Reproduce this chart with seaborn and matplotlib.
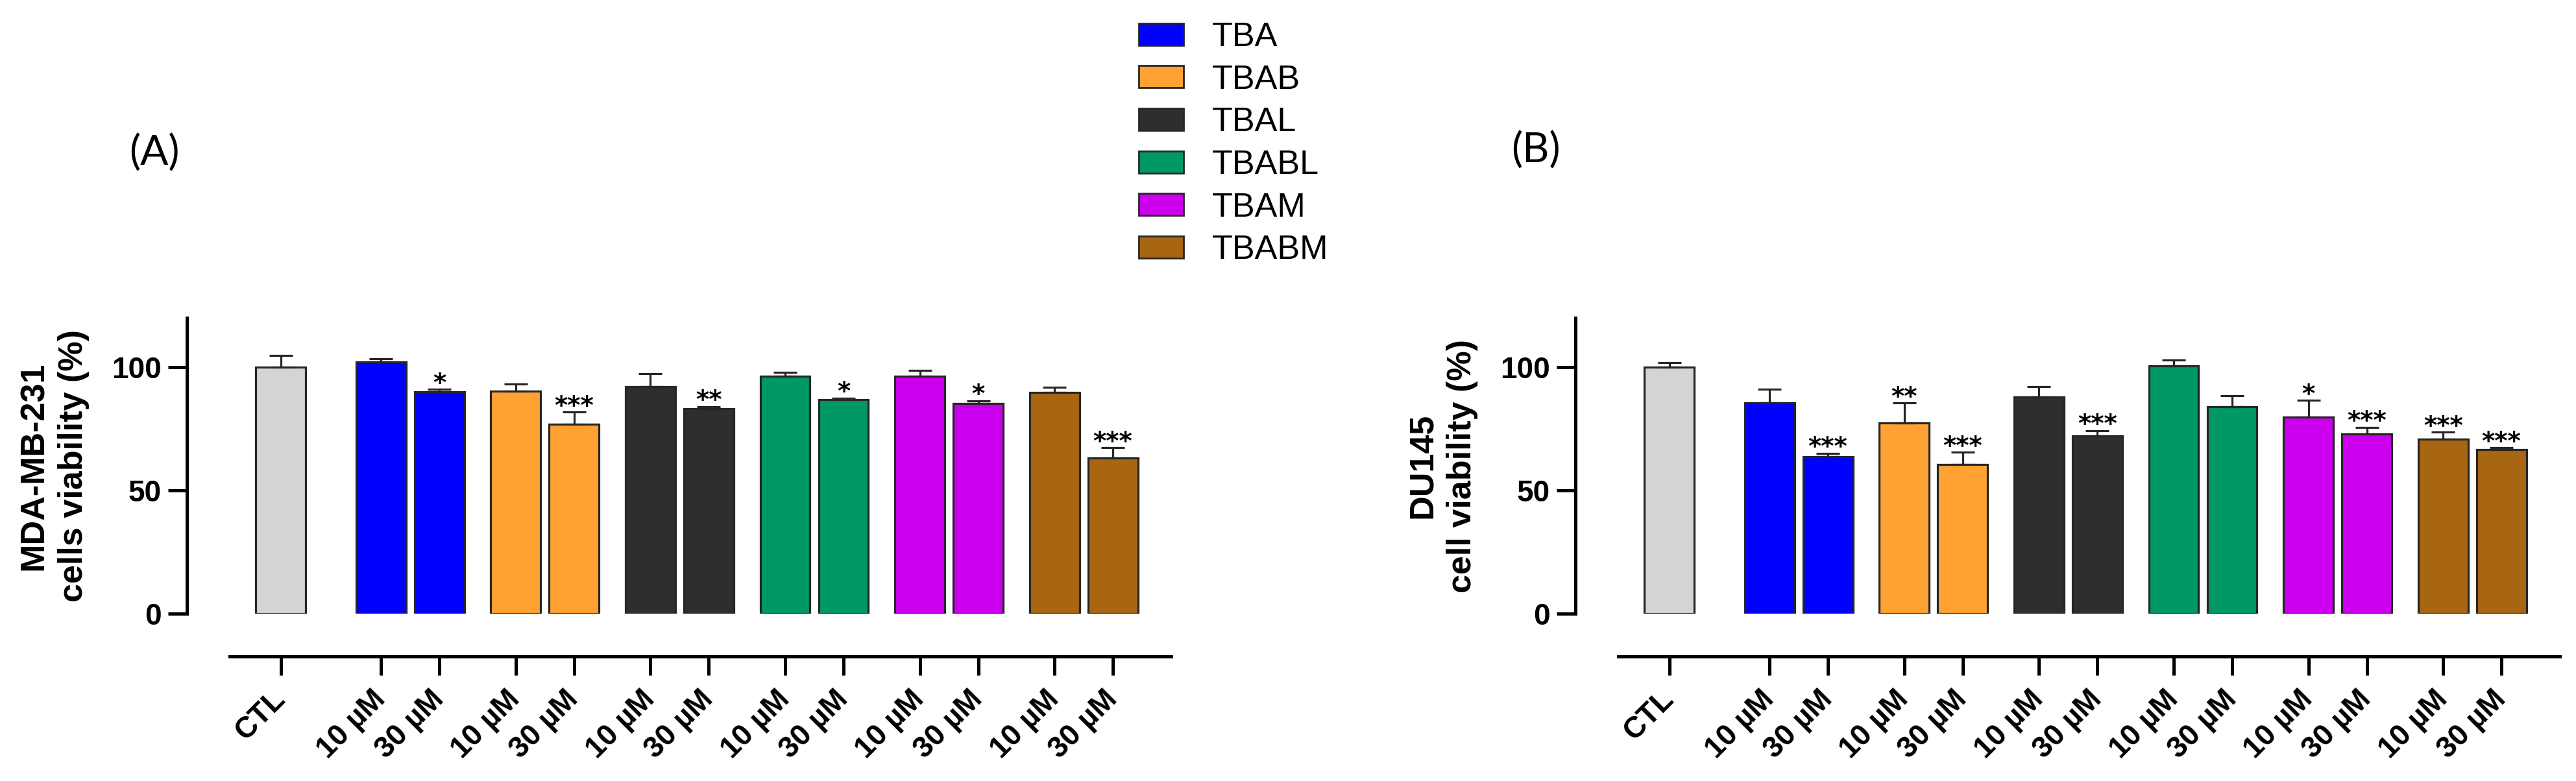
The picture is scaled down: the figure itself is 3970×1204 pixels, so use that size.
import numpy as np
import pandas as pd
import matplotlib
matplotlib.use("Agg")
import matplotlib.pyplot as plt
import seaborn as sns
from matplotlib.patches import Patch

# ---------------- data ----------------
ctl_label = "CTL"
groups = ["TBA", "TBAB", "TBAL", "TBABL", "TBAM", "TBABM"]
doses = ["10 µM", "30 µM"]

# order: CTL, TBA 10, TBA 30, TBAB 10, TBAB 30, ... TBABM 30
mda_mean = [100.0, 102.0, 90.0, 90.2, 76.8, 92.0, 83.2, 96.3, 86.8, 96.3, 85.3, 89.8, 63.2]
mda_sem = [4.8, 1.5, 1.0, 3.0, 5.0, 5.4, 0.8, 1.7, 0.7, 2.4, 1.1, 2.0, 4.2]
mda_sig = ["", "", "*", "", "***", "", "**", "", "*", "", "*", "", "***"]

du_mean = [100.0, 85.6, 63.8, 77.5, 60.4, 87.8, 72.1, 100.5, 84.0, 79.7, 72.9, 70.9, 66.5]
du_sem = [1.8, 5.5, 1.3, 8.0, 5.0, 4.3, 2.2, 2.4, 4.5, 6.8, 2.7, 2.7, 0.8]
du_sig = ["", "", "***", "**", "***", "", "***", "", "", "*", "***", "***", "***"]

ylabel_a = "MDA-MB-231\ncells viability (%)"
ylabel_b = "DU145\ncell viability (%)"
yticks = [0, 50, 100]

# ---------------- style ----------------
ctl_color = "#d4d4d4"
group_colors = ["#0000ff", "#ffa233", "#2e2e2e", "#009966", "#cc00ee", "#a86612"]
edge = "#262626"

sns.set_style("ticks")
plt.rcParams["font.family"] = ["Liberation Sans", "DejaVu Sans"]
plt.rcParams["text.color"] = "black"
plt.rcParams["axes.labelcolor"] = "black"
plt.rcParams["xtick.color"] = "black"
plt.rcParams["ytick.color"] = "black"

DPI = 100
W, H = 3970, 1204
fig = plt.figure(figsize=(W / DPI, H / DPI), dpi=DPI)

CTL_GAP = 1.72
GROUP_GAP = 2.31
BAR_W = 0.855
positions = [0.0] + [CTL_GAP + i * GROUP_GAP + j for i in range(len(groups)) for j in range(len(doses))]
hue_labels = [ctl_label] + [g for g in groups for _ in doses]
xticklabels = [ctl_label] + [d for _ in groups for d in doses]
palette = dict(zip([ctl_label] + groups, [ctl_color] + group_colors))

LW = 3.6


def panel(ax, means, sems, sigs, ylabel):
    df = pd.DataFrame({"pos": positions, "val": means, "grp": hue_labels})
    sns.barplot(data=df, x="pos", y="val", hue="grp", hue_order=[ctl_label] + groups,
                palette=palette, native_scale=True, dodge=False, width=BAR_W,
                errorbar=None, edgecolor=edge, linewidth=2.3, legend=False, ax=ax,
                saturation=1, zorder=2)
    n = len(means)
    ax.errorbar(positions, means, yerr=[np.zeros(n), sems], fmt="none", ecolor=edge,
                elinewidth=2.3, capsize=13, capthick=2.3, zorder=3)
    for p, m, s, sig in zip(positions, means, sems, sigs):
        if sig:
            ax.text(p, m + s + 2.2, sig, ha="center", va="center", fontsize=28,
                    fontweight="bold", family="DejaVu Sans", color="black", zorder=4)
    ax.set_xlim(-1.61, 15.27)
    ax.set_ylim(0, 120)
    for s in ["top", "right"]:
        ax.spines[s].set_visible(False)
    ax.spines["left"].set_linewidth(LW)
    ax.spines["bottom"].set_linewidth(LW)
    ax.spines["left"].set_color("black")
    ax.spines["bottom"].set_color("black")
    ax.spines["bottom"].set_position(("outward", 47.5))
    ax.spines["bottom"].set_bounds(-0.88, 15.27)
    ax.spines["left"].set_bounds(0, 120)
    ax.set_xlabel("")
    ax.set_facecolor("white")
    ax.grid(False)
    ax.tick_params(axis="x", length=21, width=LW, pad=22, color="black",
                   labelsize=33, labelrotation=45, labelcolor="black")
    ax.tick_params(axis="y", length=21, width=LW, pad=7, color="black",
                   labelsize=33, labelcolor="black")
    ax.set_yticks(yticks)
    ax.set_yticklabels([str(t) for t in yticks])
    ax.set_xticks(positions)
    ax.set_xticklabels(xticklabels)
    for lbl in ax.get_yticklabels():
        lbl.set_fontweight("bold")
        lbl.set_fontsize(33)
    for lbl in ax.get_xticklabels():
        lbl.set_fontweight("bold")
        lbl.set_fontsize(33)
        lbl.set_rotation(45)
        lbl.set_ha("right")
        lbl.set_va("center")
        lbl.set_rotation_mode("anchor")
    ax.set_ylabel(ylabel, fontsize=37.5, fontweight="bold", linespacing=1.3, color="black")
    ax.yaxis.set_label_coords(-0.099, 0.5)


ax_a = fig.add_axes([288 / W, 1 - 946 / H, 1517 / W, 456 / H])
ax_b = fig.add_axes([2428 / W, 1 - 946 / H, 1517 / W, 456 / H])
panel(ax_a, mda_mean, mda_sem, mda_sig, ylabel_a)
panel(ax_b, du_mean, du_sem, du_sig, ylabel_b)

fig.text(238 / W, 1 - 236 / H, "(A)", ha="center", va="center", fontsize=46,
         family=["Lato", "DejaVu Sans"], color="black")
fig.text(2367 / W, 1 - 232 / H, "(B)", ha="center", va="center", fontsize=46,
         family=["Lato", "DejaVu Sans"], color="black")

handles = [Patch(facecolor=c, edgecolor=edge, linewidth=2.0, label=g) for g, c in zip(groups, group_colors)]
fig.legend(handles=handles, loc="upper left", bbox_to_anchor=(1755 / W, 1 - 33 / H),
           frameon=False, fontsize=37.5, handlelength=1.33, handleheight=0.63,
           handletextpad=0.83, labelspacing=0.32, borderpad=0, borderaxespad=0,
           labelcolor="black")

fig.savefig("out.png", dpi=DPI)
